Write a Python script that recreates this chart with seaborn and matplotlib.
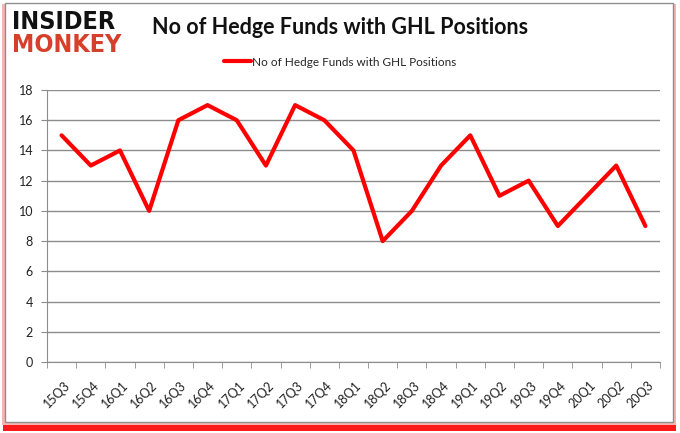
import matplotlib.pyplot as plt
import matplotlib.patches as patches
import matplotlib.transforms as mtransforms
import numpy as np
import pandas as pd
import seaborn as sns

# data
quarters = ['15Q3', '15Q4', '16Q1', '16Q2', '16Q3', '16Q4', '17Q1', '17Q2', '17Q3', '17Q4', '18Q1',
            '18Q2', '18Q3', '18Q4', '19Q1', '19Q2', '19Q3', '19Q4', '20Q1', '20Q2', '20Q3']
funds = [15, 13, 14, 10, 16, 17, 16, 13, 17, 16, 14, 8, 10, 13, 15, 11, 12, 9, 11, 13, 9]
series_name = 'No of Hedge Funds with GHL Positions'
title = 'No of Hedge Funds with GHL Positions'

df = pd.DataFrame({'quarter': quarters, 'funds': funds})

sns.set_style('white')
plt.rcParams['font.family'] = ['Lato', 'DejaVu Sans']

fig = plt.figure(figsize=(6.8, 4.33), dpi=100)

# frame with red shadow, like the original picture
W, H = 680, 433
fig.patches.append(patches.Rectangle((3 / W, 1 - 431 / H), 673 / W, 426 / H, transform=fig.transFigure,
                                     facecolor='#ff1a1a', edgecolor='none', zorder=-3))
fig.patches.append(patches.Rectangle((2 / W, 1 - 425 / H), 674 / W, 421 / H, transform=fig.transFigure,
                                     facecolor='#f7b5b0', edgecolor='none', zorder=-2))
fig.patches.append(patches.Rectangle((5 / W, 1 - 422 / H), 668 / W, 419 / H, transform=fig.transFigure,
                                     facecolor='white', edgecolor='#8f8f8f', linewidth=1, zorder=-1))

ax = fig.add_axes([47 / W, 1 - 362 / H, 613 / W, 272 / H])
sns.lineplot(data=df, x='quarter', y='funds', sort=False, color='#ff0000', linewidth=3,
             ax=ax, label=series_name)

ax.set_xlim(-0.5, len(quarters) - 0.5)
ax.set_ylim(0, 18)
ax.set_yticks(range(0, 19, 2))
ax.yaxis.grid(True, color='#8c8c8c', linewidth=1)
ax.set_axisbelow(True)
ax.set_xlabel('')
ax.set_ylabel('')
ax.set_facecolor('none')

for side in ['top', 'right']:
    ax.spines[side].set_visible(False)
for side in ['left', 'bottom']:
    ax.spines[side].set_color('#8c8c8c')

ax.set_xticks(range(len(quarters)))
ax.set_xticklabels(quarters, rotation=45, ha='right', rotation_mode='anchor', fontsize=9)
ax.set_xticks(np.arange(-0.5, len(quarters), 1), minor=True)
ax.tick_params(axis='x', which='major', length=0, pad=12)
ax.tick_params(axis='x', which='minor', bottom=True, length=4, color='#8c8c8c', direction='out')
ax.tick_params(axis='y', left=True, length=4, color='#8c8c8c', direction='out', labelsize=9, pad=6)
ax.tick_params(axis='both', colors='#8c8c8c', labelcolor='#222222', which='both')

shift = mtransforms.ScaledTranslation(2 / 100, 0, fig.dpi_scale_trans)
for lbl in ax.get_xticklabels():
    lbl.set_transform(lbl.get_transform() + shift)

ax.legend(loc='center', bbox_to_anchor=(0.5, 1 - 62 / H), bbox_transform=fig.transFigure,
          frameon=False, fontsize=8.5, handlelength=2.3, handletextpad=0.1)

# logo and title
fig.text(12 / W, 1 - 22 / H, 'INSIDER', fontsize=18, fontweight='heavy', fontstretch='condensed',
         family='DejaVu Sans', color='#111111', ha='left', va='center')
fig.text(12 / W, 1 - 45 / H, 'MONKEY', fontsize=18, fontweight='heavy', fontstretch='condensed',
         family='DejaVu Sans', color='#d6402b', ha='left', va='center')
fig.text(340 / W, 1 - 28 / H, title, fontsize=15.5, fontweight='bold', ha='center', va='center',
         color='#111111')

fig.savefig('out.png', dpi=100)
